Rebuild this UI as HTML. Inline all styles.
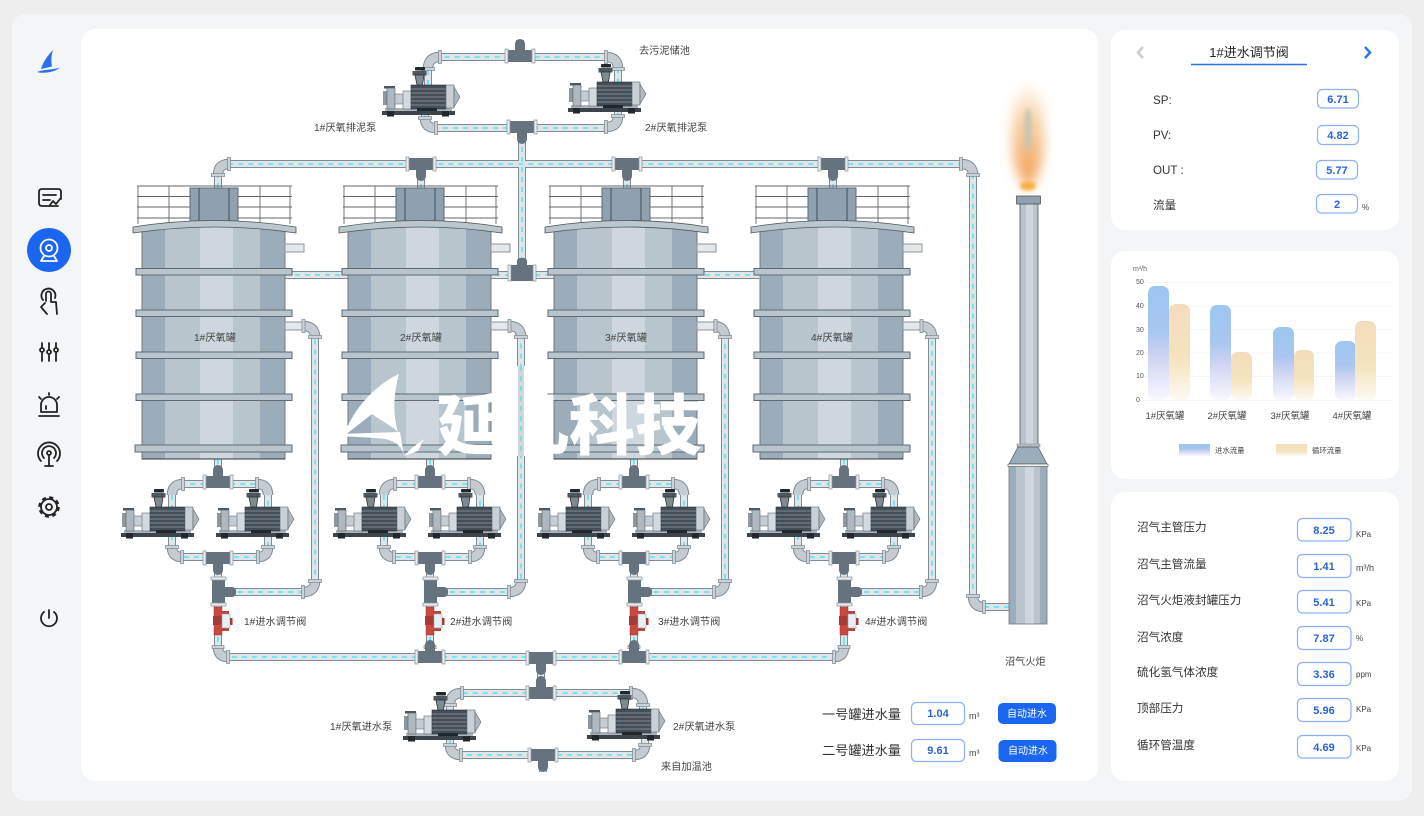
<!DOCTYPE html>
<html lang="zh"><head><meta charset="utf-8"><title>厌氧罐</title>
<style>
html,body{margin:0;padding:0;background:#eeeeee;width:1424px;height:816px;overflow:hidden}
svg{display:block;position:absolute;left:0;top:0}
text{font-family:"Liberation Sans","Noto Sans CJK SC",sans-serif;fill:#444}
.po{fill:none;stroke:#808b93;stroke-width:8}
.pl{fill:none;stroke:#e0e5e8;stroke-width:6}
.pc{fill:none;stroke:#4fe6f4;stroke-width:1.5;stroke-dasharray:5 5}
.eo{fill:none;stroke:#808b93;stroke-width:10.500}
.el{fill:none;stroke:#c4ccd2;stroke-width:8.500}
.t{font-size:10.200px}
.lb{font-size:11.600px;fill:#333}
.v{font-size:11px;font-weight:bold;fill:#2a62d9;text-anchor:middle}
.u{font-size:8px;fill:#444}
.u9{font-size:9px;fill:#444}
.bx{fill:#fff;stroke:#8ab0f5;stroke-width:1.2}
.ic{fill:none;stroke:#222;stroke-width:1.8;stroke-linecap:round;stroke-linejoin:round}
</style></head><body>
<svg width="1424" height="816" viewBox="0 0 1424 816" xmlns="http://www.w3.org/2000/svg">
<defs>
<linearGradient id="gb" x1="0" y1="0" x2="0" y2="1"><stop offset="0" stop-color="#9cc6f0"/><stop offset=".4" stop-color="#a9c6ef"/><stop offset=".65" stop-color="#d3d6f3"/><stop offset="1" stop-color="#f8f8fe"/></linearGradient>
<linearGradient id="gg" x1="0" y1="0" x2="0" y2="1"><stop offset="0" stop-color="#f3dcbc"/><stop offset=".6" stop-color="#f5e4c0"/><stop offset="1" stop-color="#fdfaf3"/></linearGradient>
<linearGradient id="fl1" x1="0" y1="0" x2="0" y2="1"><stop offset="0" stop-color="#f8d2a8" stop-opacity=".1"/><stop offset=".3" stop-color="#f6c894" stop-opacity=".7"/><stop offset=".75" stop-color="#f4b070"/><stop offset="1" stop-color="#f4a860"/></linearGradient>
<filter id="b6" x="-150%" y="-50%" width="400%" height="200%"><feGaussianBlur stdDeviation="6"/></filter>
<filter id="b2" x="-100%" y="-50%" width="300%" height="200%"><feGaussianBlur stdDeviation="2"/></filter>

<g id="fl"><rect x="-6.500" y="-1.500" width="13" height="3" fill="#ccd3d8" stroke="#7b868e" stroke-width=".7"/></g>
<g id="flV"><rect x="-1.500" y="-6.500" width="3" height="13" fill="#ccd3d8" stroke="#7b868e" stroke-width=".7"/></g>

<g id="tank">
 <g fill="none" stroke="#666" stroke-width=".9">
  <path d="M137 186H292M137 196.500H292M137 207H292M137 218H292M138 186V224M169 186V222M260 186V222M290 186V224"/>
 </g>
 <rect x="190" y="188" width="48" height="34" fill="#8fa1b0" stroke="#5d6973"/>
 <path d="M199 188V222M229 188V222" stroke="#3f4a52" stroke-width="1"/>
 <rect x="142" y="226" width="23" height="233" fill="#9badba"/>
 <rect x="165" y="226" width="35" height="233" fill="#b8c5cd"/>
 <rect x="200" y="226" width="33" height="233" fill="#cdd7dd"/>
 <rect x="233" y="226" width="27" height="233" fill="#b8c5cd"/>
 <rect x="260" y="226" width="25" height="233" fill="#9badba"/>
 <path d="M142 228V459H285V228" fill="none" stroke="#777" stroke-width="1"/>
 <path d="M142 459H285" stroke="#333" stroke-width="1"/>
 <path d="M133 227Q215 214 296 227V233Q215 221 133 233Z" fill="#b9c7cf" stroke="#555" stroke-width=".8"/>
 <g fill="#b8c5cd" stroke="#5f6a72" stroke-width="1">
  <rect x="136" y="268.500" width="156" height="6.500"/>
  <rect x="136" y="310" width="156" height="6.500"/>
  <rect x="136" y="352" width="156" height="6.500"/>
  <rect x="136" y="394" width="156" height="6.500"/>
  <rect x="135" y="445" width="157" height="7"/>
 </g>
 <rect x="285" y="244" width="19" height="8" fill="#e4e8ea" stroke="#8a949b"/>
 <rect x="285" y="322" width="18" height="8" fill="#e4e8ea" stroke="#8a949b"/>
 <use href="#flV" x="303.500" y="326"/>
</g>

<g id="pump">
 <rect x="0" y="0" width="73" height="4" fill="#3d454c"/>
 <rect x="3" y="-3" width="67" height="3" fill="#aab3b9"/>
 <rect x="5" y="0" width="7" height="5.500" fill="#22272c"/><rect x="60" y="0" width="7" height="5.500" fill="#22272c"/>
 <rect x="1" y="-20" width="4" height="14" fill="#8e989f"/>
 <rect x="2" y="-25" width="11" height="2.500" fill="#4d575e"/>
 <rect x="5" y="-23" width="8" height="21" fill="#aeb8be" stroke="#555f66" stroke-width=".6"/>
 <rect x="13" y="-17" width="9" height="10" fill="#c4cdd2" stroke="#6a747b" stroke-width=".6"/>
 <rect x="21" y="-20" width="9" height="18" fill="#d3dadf" stroke="#5f6a72" stroke-width=".6"/>
 <rect x="29" y="-26" width="35" height="24" fill="#434e57" stroke="#2b3137" stroke-width=".6"/>
 <path d="M29 -22H64M29 -18H64M29 -14H64M29 -10H64M29 -6H64" stroke="#7d8890" stroke-width=".9"/>
 <rect x="64" y="-26" width="8" height="23" fill="#c8d0d6" stroke="#5f6a72" stroke-width=".6"/>
 <path d="M72 -24L78 -14L72 -4Z" fill="#aeb8be" stroke="#5f6a72" stroke-width=".6"/>
 <rect x="33" y="-44" width="10" height="3.500" rx="1" fill="#22272c"/>
 <rect x="30.500" y="-40" width="14" height="4.500" fill="#4d575e"/>
 <path d="M33 -36H42L40.500 -26H35Z" fill="#7e8990" stroke="#2b3137" stroke-width=".8"/>
 <rect x="35" y="-3" width="20" height="3" fill="#22272c"/>
</g>

<g id="teeD">
 <rect x="-5" y="0" width="10" height="17" rx="5" fill="#66727e"/>
 <rect x="-13" y="-6" width="26" height="12" fill="#66727e"/>
 <rect x="-15" y="-7" width="3" height="14" fill="#e8ebed" stroke="#8a949b" stroke-width=".7"/>
 <rect x="12" y="-7" width="3" height="14" fill="#e8ebed" stroke="#8a949b" stroke-width=".7"/>
</g>
<use id="teeU" href="#teeD" transform="scale(1,-1)"/>

<g id="junc">
 <rect x="212" y="578" width="13" height="26" fill="#66727e"/>
 <rect x="211" y="577" width="15" height="3" fill="#e8ebed" stroke="#8a949b" stroke-width=".7"/>
 <rect x="211" y="603" width="15" height="3" fill="#e8ebed" stroke="#8a949b" stroke-width=".7"/>
 <rect x="220" y="587" width="16" height="10" rx="4" fill="#66727e"/>
 <rect x="214" y="607" width="8" height="28" fill="#c9483f" stroke="#9c3730" stroke-width=".5"/>
 <rect x="213" y="616" width="10" height="9" fill="#a73a33"/>
 <rect x="222" y="611" width="7" height="3" fill="#b8433b"/><rect x="222" y="628" width="7" height="3" fill="#b8433b"/>
 <rect x="222" y="614" width="8" height="14" fill="#e6f0fa" stroke="#9aa5ac" stroke-width=".6"/>
 <rect x="230" y="618" width="2.500" height="7" fill="#a73a33"/>
 <rect x="212" y="645.500" width="12" height="3" fill="#ccd3d8" stroke="#7b868e" stroke-width=".7"/>
</g>

<path id="pipes" d="M218 188V175Q218 164 229 164H961Q973 164 973 175V596Q973 607 984 607H1012
 M421 164V188M627 164V188M833 164V188
 M522 127V272M285 275H759
 M520 40V57M428 85V69Q428 57 440 57H606Q618 57 618 69V85
 M425 112V118Q425 128 436 128H522H606Q618 127 618 116V108
 M541 658V693M450 715V705Q450 693 462 693H631Q643 693 643 705V715
 M450 738V745Q450 755 461 755H634Q645 755 645 745V735M543 755V772
 M218 459V484M172 510V495Q172 484 183 484H257Q268 484 268 495V510M172 535V547Q172 557 182 557H258Q268 557 268 547V535M218 557V647Q218 657 228 657H834Q844 657 844 647V640
 M430 459V484M384 510V495Q384 484 395 484H469Q480 484 480 495V510M384 535V547Q384 557 394 557H470Q480 557 480 547V535M430 557V657
 M634 459V484M588 510V495Q588 484 599 484H673Q684 484 684 495V510M588 535V547Q588 557 598 557H674Q684 557 684 547V535M634 557V657
 M844 459V484M798 510V495Q798 484 809 484H883Q894 484 894 495V510M798 535V547Q798 557 808 557H884Q894 557 894 547V535M844 557V647
 M218 592H303Q315 592 315 581V337Q315 326 303 326H285
 M430 592H509Q521 592 521 581V337Q521 326 509 326H491
 M634 592H714Q725 592 725 581V337Q725 326 713 326H697
 M844 592H921Q932 592 932 581V337Q932 326 920 326H903"/>
<path id="elbows" d="M218 175Q218 164 229 164M961 164Q973 164 973 175M973 596Q973 607 984 607
 M428 69Q428 57 440 57M606 57Q618 57 618 69M425 118Q425 128 436 128M606 127Q618 127 618 116
 M450 705Q450 693 462 693M631 693Q643 693 643 705M450 745Q450 755 461 755M634 755Q645 755 645 745
 M172 495Q172 484 183 484M257 484Q268 484 268 495M172 547Q172 557 182 557M258 557Q268 557 268 547M218 647Q218 657 228 657M834 657Q844 657 844 647
 M384 495Q384 484 395 484M469 484Q480 484 480 495M384 547Q384 557 394 557M470 557Q480 557 480 547
 M588 495Q588 484 599 484M673 484Q684 484 684 495M588 547Q588 557 598 557M674 557Q684 557 684 547
 M798 495Q798 484 809 484M883 484Q894 484 894 495M798 547Q798 557 808 557M884 557Q894 557 894 547
 M303 592Q315 592 315 581M315 337Q315 326 303 326M509 592Q521 592 521 581M521 337Q521 326 509 326
 M714 592Q725 592 725 581M725 337Q725 326 713 326M921 592Q932 592 932 581M932 337Q932 326 920 326"/>

<g id="grp">
 <use href="#flV" x="183" y="484"/><use href="#flV" x="257" y="484"/>
 <use href="#fl" x="172" y="547"/><use href="#fl" x="268" y="547"/>
 <use href="#flV" x="182" y="557"/><use href="#flV" x="258" y="557"/>
 <use href="#teeU" transform="translate(218,482)"/>
 <use href="#teeD" transform="translate(218,558)"/>
 <use href="#junc"/>
 <use href="#pump" x="121" y="533"/>
 <use href="#pump" x="216" y="533"/>
</g>
</defs>

<rect x="12" y="14" width="1400" height="787" rx="14" fill="#f4f5f7"/>
<rect x="81" y="29" width="1017" height="752" rx="14" fill="#fff"/>
<rect x="1111" y="30" width="288" height="200" rx="14" fill="#fff"/>
<rect x="1111" y="251" width="288" height="228" rx="14" fill="#fff"/>
<rect x="1111" y="492" width="288" height="289" rx="14" fill="#fff"/>

<!-- sidebar -->
<path d="M53 50C48 55 43 62 41 69L52 66.500C51 61 51 56 53 50Z" fill="#2a6fe8"/>
<path d="M37 72C45 69 53 70 60 67.500C55 72 44 74 37 72Z" fill="#2a6fe8"/>
<circle cx="49" cy="250" r="22" fill="#1a66f0"/>
<g class="ic">
 <path d="M58 206H42Q39 206 39 203V192Q39 189 42 189H58Q61 189 61 192V199M43 195H56M43 200H50"/><path d="M50 205L53 201L56 204L60 199"/>
 <g style="stroke:#fff"><circle cx="49" cy="248" r="8.500"/><circle cx="49" cy="248" r="3"/><path d="M44 256L41 261H57L54 256"/></g>
 <path d="M43 300A7 7 0 1 1 55 298M46 301V294A2.500 2.500 0 0 1 51 294V302H56L57 314M45 303L41 307L47 314"/>
 <path d="M42 343V347M42 353V361M49 343V349M49 355V361M56 343V347M56 353V361"/><circle cx="42" cy="350" r="2"/><circle cx="49" cy="352" r="2"/><circle cx="56" cy="350" r="2"/>
 <path d="M41 412V405A8 8 0 0 1 57 405V412ZM39 416H59M49 393V395M39 397L41 399M59 397L57 399M46 409V406"/>
 <circle cx="49" cy="453" r="2"/><path d="M49 455V465M45 466H53M44 458A7 7 0 1 1 54 458M41 461A11 11 0 1 1 57 461"/>
 <circle cx="49" cy="507" r="8"/><circle cx="49" cy="507" r="3"/>
 <circle cx="49" cy="507" r="9.500" style="stroke-width:2.500;stroke-dasharray:4 3.460;stroke-linecap:butt"/>
 <path d="M49 610V618M44 612A8 8 0 1 0 54 612"/>
</g>

<!-- pipes -->
<g class="po"><use href="#pipes"/></g>
<g class="pl"><use href="#pipes"/></g>
<g class="pc"><use href="#pipes"/></g>
<g class="eo"><use href="#elbows"/></g>
<g class="el"><use href="#elbows"/></g>
<use href="#flV" x="229" y="164"/><use href="#fl" x="218" y="175"/>
<use href="#flV" x="961" y="164"/><use href="#fl" x="973" y="175"/>
<use href="#fl" x="973" y="596"/><use href="#flV" x="984" y="607"/>
<use href="#flV" x="228" y="657"/><use href="#flV" x="834" y="657"/>
<use href="#flV" x="440" y="57"/><use href="#flV" x="606" y="57"/>
<use href="#fl" x="428" y="69"/><use href="#fl" x="618" y="69"/>
<use href="#fl" x="425" y="118"/><use href="#flV" x="436" y="128"/>
<use href="#fl" x="618" y="116"/><use href="#flV" x="606" y="127"/>
<use href="#flV" x="462" y="693"/><use href="#flV" x="631" y="693"/>
<use href="#fl" x="450" y="705"/><use href="#fl" x="643" y="705"/>
<use href="#fl" x="450" y="745"/><use href="#flV" x="461" y="755"/>
<use href="#fl" x="645" y="745"/><use href="#flV" x="634" y="755"/>
<use href="#flV" x="303" y="592"/><use href="#fl" x="315" y="581"/><use href="#fl" x="315" y="337"/>
<use href="#flV" x="509" y="592"/><use href="#fl" x="521" y="581"/><use href="#fl" x="521" y="337"/>
<use href="#flV" x="714" y="592"/><use href="#fl" x="725" y="581"/><use href="#fl" x="725" y="337"/>
<use href="#flV" x="921" y="592"/><use href="#fl" x="932" y="581"/><use href="#fl" x="932" y="337"/>

<!-- tanks -->
<use href="#tank"/>
<use href="#tank" x="206"/>
<use href="#tank" x="412"/>
<use href="#tank" x="618"/>

<!-- pump groups -->
<use href="#grp"/>
<use href="#grp" x="212"/>
<use href="#grp" x="416"/>
<use href="#grp" x="626"/>

<!-- other fittings -->
<use href="#teeD" transform="translate(421,164)"/>
<use href="#teeD" transform="translate(627,164)"/>
<use href="#teeD" transform="translate(833,164)"/>
<use href="#teeD" transform="translate(522,127)"/>
<use href="#teeU" transform="translate(520,56)"/>
<use href="#teeD" transform="translate(430,657) scale(1,-1)"/>
<use href="#teeD" transform="translate(634,657) scale(1,-1)"/>
<use href="#teeD" transform="translate(541,658)"/>
<use href="#teeD" transform="translate(541,693) scale(1,-1)"/>
<use href="#teeD" transform="translate(543,755)"/>
<rect x="510" y="265" width="24" height="16" fill="#66727e"/><rect x="517" y="258" width="10" height="10" rx="3" fill="#66727e"/>
<rect x="508" y="265" width="3" height="16" fill="#e8ebed" stroke="#8a949b" stroke-width=".7"/><rect x="533" y="265" width="3" height="16" fill="#e8ebed" stroke="#8a949b" stroke-width=".7"/>
<use href="#pump" x="382" y="111"/>
<use href="#pump" x="568" y="108"/>
<use href="#pump" x="403" y="736"/>
<use href="#pump" x="587" y="735"/>
<rect x="1010" y="602" width="3" height="10" fill="#b8c0c6" stroke="#666" stroke-width=".7"/>

<!-- flame -->
<ellipse cx="1028" cy="134" rx="16" ry="52" fill="url(#fl1)" filter="url(#b6)"/>
<ellipse cx="1028" cy="130" rx="3.500" ry="22" fill="#c4c4b2" filter="url(#b2)"/>
<ellipse cx="1028" cy="186" rx="8" ry="4.500" fill="#f6a93a" filter="url(#b2)"/>
<!-- stack -->
<rect x="1020" y="204" width="18" height="242" fill="#b8c5cd" stroke="#555" stroke-width=".8"/>
<rect x="1026" y="204" width="7" height="242" fill="#cdd7dd"/>
<rect x="1016.500" y="196" width="24" height="8" fill="#8fa1b0" stroke="#555" stroke-width=".8"/>
<rect x="1017" y="444" width="23" height="3" fill="#b5bcc1" stroke="#888" stroke-width=".5"/>
<path d="M1018 447L1009 464H1047L1038 447Z" fill="#9badba" stroke="#555" stroke-width=".7"/>
<rect x="1009" y="466" width="38" height="158" fill="#9badba"/>
<rect x="1016" y="466" width="24" height="158" fill="#b8c5cd"/>
<rect x="1025" y="466" width="9" height="158" fill="#cdd7dd"/>
<rect x="1009" y="466" width="38" height="158" fill="none" stroke="#777" stroke-width=".8"/>
<rect x="1008" y="464" width="40" height="2.500" fill="#eef0f2" stroke="#555" stroke-width=".6"/>

<!-- labels in diagram -->
<text class="t" x="639" y="54">去污泥储池</text>
<text class="t" x="314" y="131">1#厌氧排泥泵</text>
<text class="t" x="645" y="131">2#厌氧排泥泵</text>
<text class="t" x="194" y="341">1#厌氧罐</text>
<text class="t" x="400" y="341">2#厌氧罐</text>
<text class="t" x="605" y="341">3#厌氧罐</text>
<text class="t" x="811" y="341">4#厌氧罐</text>
<text class="t" x="244" y="625">1#进水调节阀</text>
<text class="t" x="450" y="625">2#进水调节阀</text>
<text class="t" x="658" y="625">3#进水调节阀</text>
<text class="t" x="865" y="625">4#进水调节阀</text>
<text class="t" x="1005" y="665">沼气火炬</text>
<text class="t" x="330" y="730">1#厌氧进水泵</text>
<text class="t" x="673" y="730">2#厌氧进水泵</text>
<text class="t" x="661" y="770">来自加温池</text>

<!-- watermark -->
<path d="M399 374C375 385 352 410 344 436L372 414C380 420 392 426 398 432C393 415 393 395 399 374Z" fill="#fff"/>
<path d="M338 434L400 432L404 456C402 446 395 441 385 439C370 437 350 437 338 436Z" fill="#fff"/>
<path d="M412 448L424 439L418 451L404 456Z" fill="#fff"/>
<text x="437" y="449" style="font-size:66px;font-weight:900;fill:#fff;font-family:'Liberation Sans','Noto Sans CJK SC',sans-serif">延凡科技</text>
<rect x="493" y="366" width="54" height="90" fill="#fff"/>
<path d="M521 366V456" stroke="#c9ced1" stroke-width="6" opacity=".8"/>
<path d="M521 366V456" stroke="#4fe6f4" stroke-width="1.500" stroke-dasharray="5 5"/>

<!-- bottom controls -->
<text x="822" y="719" style="font-size:13.200px;fill:#333">一号罐进水量</text>
<text x="822" y="755" style="font-size:13.200px;fill:#333">二号罐进水量</text>
<rect class="bx" x="911.500" y="702.500" width="53" height="22" rx="5"/>
<rect class="bx" x="911.500" y="739.500" width="53" height="22" rx="5"/>
<text class="v" x="938" y="717">1.04</text>
<text class="v" x="938" y="754">9.61</text>
<text class="u9" x="969" y="719">m³</text>
<text class="u9" x="969" y="756">m³</text>
<rect x="998" y="703" width="58" height="21" rx="5" fill="#1a66f0"/>
<rect x="998.500" y="740" width="58" height="22" rx="5" fill="#1a66f0"/>
<text x="1027" y="717" text-anchor="middle" style="font-size:10px;fill:#fff">自动进水</text>
<text x="1028" y="754" text-anchor="middle" style="font-size:10px;fill:#fff">自动进水</text>

<!-- panel 1 -->
<text x="1249" y="57" text-anchor="middle" style="font-size:13px;fill:#222">1#进水调节阀</text>
<path d="M1191 64.500H1307" stroke="#2a6fe8" stroke-width="1.500"/>
<path d="M1143 47L1138 52.500L1143 58" fill="none" stroke="#cccccc" stroke-width="2.500"/>
<path d="M1365 47L1370 52.500L1365 58" fill="none" stroke="#2f76ea" stroke-width="2.500"/>
<text class="lb" x="1153" y="104">SP:</text>
<text class="lb" x="1153" y="139">PV:</text>
<text class="lb" x="1153" y="174">OUT :</text>
<text class="lb" x="1153" y="209">流量</text>
<rect class="bx" x="1317.500" y="89.500" width="41" height="18.500" rx="5"/>
<rect class="bx" x="1317.500" y="125.500" width="41" height="19" rx="5"/>
<rect class="bx" x="1316.500" y="160.500" width="41" height="18.500" rx="5"/>
<rect class="bx" x="1316.500" y="194.500" width="41" height="18.500" rx="5"/>
<text class="v" x="1338" y="103">6.71</text>
<text class="v" x="1338" y="139">4.82</text>
<text class="v" x="1337" y="174">5.77</text>
<text class="v" x="1337" y="208">2</text>
<text class="u" x="1362" y="210">%</text>

<!-- chart -->
<g stroke="#f3f4f6" stroke-width="1"><path d="M1143 282.500H1392M1143 306H1392M1143 329.500H1392M1143 353H1392M1143 376.500H1392M1143 400.500H1392"/></g>
<g><text x="1133" y="271" style="font-size:7px;fill:#666">m³/h</text>
<text x="1136" y="284" style="font-size:7px;fill:#555">50</text><text x="1136" y="308" style="font-size:7px;fill:#555">40</text><text x="1136" y="332" style="font-size:7px;fill:#555">30</text><text x="1136" y="355" style="font-size:7px;fill:#555">20</text><text x="1136" y="378" style="font-size:7px;fill:#555">10</text><text x="1136" y="402" style="font-size:7px;fill:#555">0</text></g>
<rect x="1148" y="286" width="21" height="114" rx="7" fill="url(#gb)"/>
<rect x="1169" y="304" width="21" height="96" rx="7" fill="url(#gg)"/>
<rect x="1210" y="305" width="21" height="95" rx="7" fill="url(#gb)"/>
<rect x="1231" y="352" width="21" height="48" rx="7" fill="url(#gg)"/>
<rect x="1273" y="327" width="21" height="73" rx="7" fill="url(#gb)"/>
<rect x="1294" y="350" width="20" height="50" rx="7" fill="url(#gg)"/>
<rect x="1335" y="341" width="21" height="59" rx="7" fill="url(#gb)"/>
<rect x="1355" y="321" width="21" height="79" rx="7" fill="url(#gg)"/>
<g text-anchor="middle"><text x="1165" y="419" style="font-size:9.500px">1#厌氧罐</text><text x="1227" y="419" style="font-size:9.500px">2#厌氧罐</text><text x="1290" y="419" style="font-size:9.500px">3#厌氧罐</text><text x="1352" y="419" style="font-size:9.500px">4#厌氧罐</text></g>
<rect x="1179" y="444" width="31" height="12" fill="url(#gb)"/>
<rect x="1276" y="444" width="31" height="12" fill="url(#gg)"/>
<text x="1215" y="453" style="font-size:7.400px">进水流量</text>
<text x="1312" y="453" style="font-size:7.400px">循环流量</text>

<!-- panel 3 -->
<text class="lb" x="1137" y="531">沼气主管压力</text>
<text class="lb" x="1137" y="568">沼气主管流量</text>
<text class="lb" x="1137" y="604">沼气火炬液封罐压力</text>
<text class="lb" x="1137" y="641">沼气浓度</text>
<text class="lb" x="1137" y="676">硫化氢气体浓度</text>
<text class="lb" x="1137" y="712">顶部压力</text>
<text class="lb" x="1137" y="749">循环管温度</text>
<rect class="bx" x="1297.500" y="518.500" width="53.500" height="22.500" rx="5"/>
<rect class="bx" x="1297.500" y="554.500" width="53.500" height="23" rx="5"/>
<rect class="bx" x="1297.500" y="590.500" width="53.500" height="22.500" rx="5"/>
<rect class="bx" x="1297.500" y="626.500" width="53.500" height="23" rx="5"/>
<rect class="bx" x="1297.500" y="662.500" width="53.500" height="23" rx="5"/>
<rect class="bx" x="1297.500" y="698.500" width="53.500" height="23" rx="5"/>
<rect class="bx" x="1297.500" y="735.500" width="53.500" height="22.500" rx="5"/>
<text class="v" x="1324" y="534">8.25</text>
<text class="v" x="1324" y="570">1.41</text>
<text class="v" x="1324" y="606">5.41</text>
<text class="v" x="1324" y="642">7.87</text>
<text class="v" x="1324" y="678">3.36</text>
<text class="v" x="1324" y="714">5.96</text>
<text class="v" x="1324" y="751">4.69</text>
<text class="u" x="1356" y="537">KPa</text>
<text class="u9" x="1356" y="571">m³/h</text>
<text class="u" x="1356" y="606">KPa</text>
<text class="u" x="1356" y="641">%</text>
<text class="u" x="1356" y="677">ppm</text>
<text class="u" x="1356" y="712">KPa</text>
<text class="u" x="1356" y="751">KPa</text>
</svg>
</body></html>
